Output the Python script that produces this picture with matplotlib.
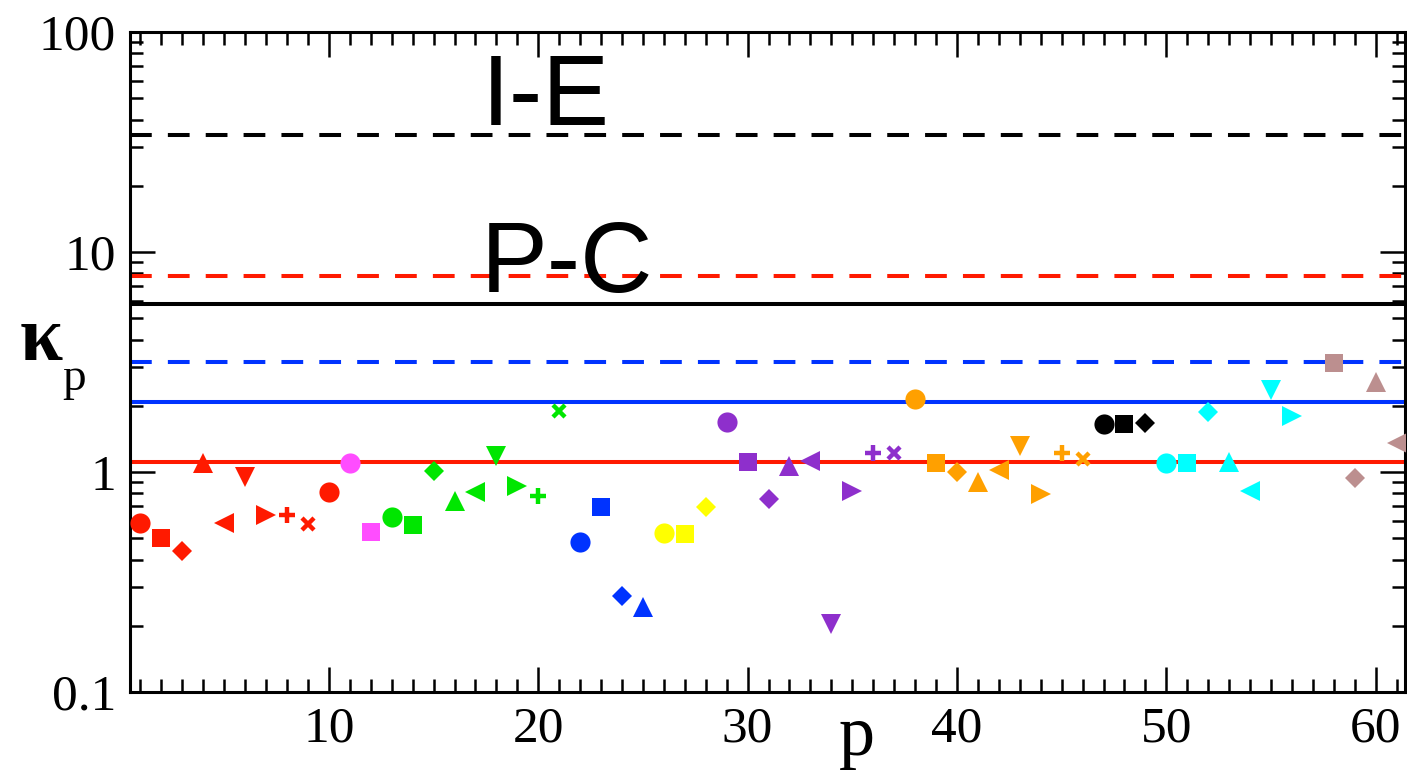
import matplotlib
matplotlib.use("Agg")
import matplotlib.pyplot as plt
from matplotlib.ticker import LogLocator, MultipleLocator, FixedLocator, NullFormatter, FixedFormatter

# ---- data -------------------------------------------------------------
p_values = [1, 2, 3, 4, 5, 6, 7, 8, 9, 10,
            11, 12,
            13, 14, 15, 16, 17, 18, 19, 20, 21,
            22, 23, 24, 25,
            26, 27, 28,
            29, 30, 31, 32, 33, 34, 35, 36, 37,
            38, 39, 40, 41, 42, 43, 44, 45, 46,
            47, 48, 49,
            50, 51, 52, 53, 54, 55, 56,
            58, 59, 60, 61]

kappa_values = [0.585, 0.50, 0.437, 1.10, 0.585, 0.95, 0.64, 0.64, 0.58, 0.81,
                1.10, 0.535,
                0.626, 0.574, 1.01, 0.737, 0.81, 1.185, 0.864, 0.78, 1.89,
                0.482, 0.69, 0.274, 0.243,
                0.526, 0.52, 0.695,
                1.69, 1.114, 0.751, 1.065, 1.12, 0.203, 0.82, 1.224, 1.224,
                2.15, 1.095, 1.003, 0.904, 1.02, 1.315, 0.794, 1.216, 1.14,
                1.66, 1.66, 1.67,
                1.095, 1.10, 1.88, 1.11, 0.82, 2.36, 1.80,
                3.14, 0.94, 2.56, 1.36]

# number of consecutive points in each colour group
group_sizes = [10, 2, 9, 4, 3, 9, 9, 3, 7, 4]
group_colors = ['#FF1A00', '#FF4DFF', '#00E600', '#0033FF', '#FFFF00',
                '#8E2FCC', '#FFA000', '#000000', '#00FFFF', '#BC8F8F']
group_first_symbol = [0, 0, 0, 0, 0, 0, 0, 0, 0, 1]

symbol_cycle = ['o', 's', 'D', '^', '<', 'v', '>', '+', 'x']

# reference levels
ref_levels = [34.0, 7.8, 5.8, 3.17, 2.09, 1.11]
ref_colors = ['#000000', '#FF1A00', '#000000', '#0033FF', '#0033FF', '#FF1A00']
ref_dashed = [True, True, False, True, False, False]

x_ticks = [10, 20, 30, 40, 50, 60]
y_ticks = [0.1, 1, 10, 100]
y_tick_labels = ['0.1', '1', '10', '100']

# ---- figure -----------------------------------------------------------
W, H = 1407, 770
fig = plt.figure(figsize=(W / 100, H / 100), dpi=100)
ax = fig.add_axes([130 / W, 1 - 692 / H, (1405 - 130) / W, (692 - 32) / H])

ax.set_yscale('log')
ax.set_xlim(0.5, 61.4)
ax.set_ylim(0.1, 100)

for val, col, dashed in zip(ref_levels, ref_colors, ref_dashed):
    ls = (0, (5.4, 4.0)) if dashed else '-'
    ax.axhline(val, color=col, lw=2.9, ls=ls, zorder=2)

marker_sizes = {'o': 14.5, 's': 12.5, 'D': 10.0, '^': 14.0, 'v': 14.0,
                '<': 14.0, '>': 14.0, '+': 11.5, 'x': 9.0}

idx = 0
for size, col, first in zip(group_sizes, group_colors, group_first_symbol):
    for k in range(size):
        m = symbol_cycle[(first + k) % len(symbol_cycle)]
        x = p_values[idx]
        y = kappa_values[idx]
        if m in ('+', 'x'):
            ax.plot([x], [y], ls='none', marker=m, ms=marker_sizes[m],
                    mec=col, mew=3.2, zorder=3)
        else:
            ax.plot([x], [y], ls='none', marker=m, ms=marker_sizes[m],
                    mfc=col, mec=col, mew=0.0, zorder=3)
        idx += 1

# ---- axes styling -----------------------------------------------------
for s in ax.spines.values():
    s.set_linewidth(2.2)

ax.xaxis.set_major_locator(FixedLocator(x_ticks))
ax.xaxis.set_minor_locator(MultipleLocator(1))
ax.yaxis.set_major_locator(FixedLocator(y_ticks))
ax.yaxis.set_major_formatter(FixedFormatter(y_tick_labels))
ax.yaxis.set_minor_locator(LogLocator(base=10, subs=range(2, 10)))
ax.yaxis.set_minor_formatter(NullFormatter())

ax.tick_params(which='both', direction='in', top=True, right=True, width=1.8)
ax.tick_params(which='major', length=18, pad=10)
ax.tick_params(which='minor', length=9.5)

serif = ['Liberation Serif', 'DejaVu Serif']
for lab in ax.get_xticklabels() + ax.get_yticklabels():
    lab.set_fontfamily(serif)
    lab.set_fontsize(37)

# annotations
sans = ['Liberation Sans', 'DejaVu Sans']
fig.text(482 / W, 1 - 125 / H, 'I-E', fontsize=72, family=sans,
         va='baseline', ha='left')
fig.text(481 / W, 1 - 292 / H, 'P-C', fontsize=72, family=sans,
         va='baseline', ha='left')

# axis titles
fig.text(20 / W, 1 - 360 / H, 'κ', fontsize=56, family=serif, fontweight='bold',
         va='baseline', ha='left')
fig.text(62 / W, 1 - 390 / H, 'p', fontsize=34, family=serif,
         va='baseline', ha='left')
fig.text(857 / W, 1 - 755 / H, 'p', fontsize=52, family=serif,
         va='baseline', ha='center')

fig.savefig('out.png', dpi=100)
